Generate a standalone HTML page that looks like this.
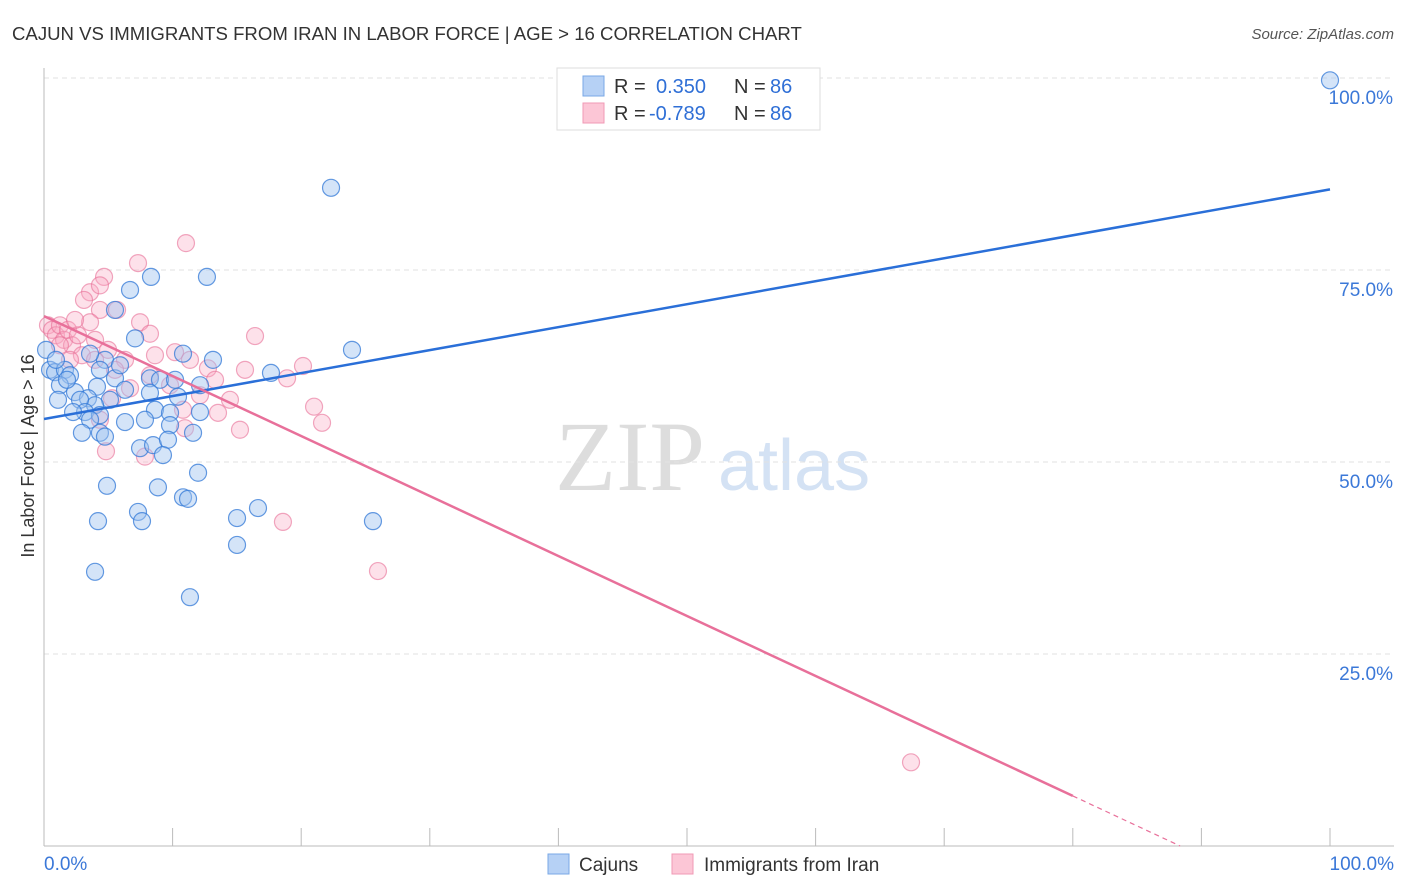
<!DOCTYPE html>
<html><head><meta charset="utf-8"><style>
body{margin:0;background:#fff;font-family:"Liberation Sans",sans-serif}
#c{position:relative;width:1406px;height:892px;overflow:hidden}
</style></head><body>
<div id="c">
<svg id="s" width="1406" height="892" xmlns="http://www.w3.org/2000/svg">
<text x="12" y="40" font-size="18.6" fill="#333">CAJUN VS IMMIGRANTS FROM IRAN IN LABOR FORCE | AGE &gt; 16 CORRELATION CHART</text>
<text x="1394" y="39" font-size="15" fill="#555" font-style="italic" text-anchor="end">Source: ZipAtlas.com</text>
<text x="0" y="0" transform="translate(34,456) rotate(-90)" font-size="18" fill="#333" text-anchor="middle">In Labor Force | Age &gt; 16</text>
<text x="555" y="490" font-size="100" fill="#ddd" font-family="Liberation Serif,serif">ZIP</text>
<text x="718" y="490" font-size="72" fill="#d4e2f4">atlas</text>
<g id="grid"></g><g id="pts"></g><g id="lines"></g>
<g>
<rect x="557" y="68" width="263" height="62" fill="#fff" stroke="#ddd"/>
<rect x="583" y="76" width="21" height="20" fill="#b6d1f5" stroke="#7aa8e6"/>
<rect x="583" y="103" width="21" height="20" fill="#fcc6d6" stroke="#f09ab5"/>
<text x="614" y="93" font-size="20" fill="#333">R =</text>
<text x="656" y="93" font-size="20" fill="#2f6fd6">0.350</text>
<text x="734" y="93" font-size="20" fill="#333">N =</text>
<text x="770" y="93" font-size="20" fill="#2f6fd6">86</text>
<text x="614" y="120" font-size="20" fill="#333">R =</text>
<text x="649" y="120" font-size="20" fill="#2f6fd6">-0.789</text>
<text x="734" y="120" font-size="20" fill="#333">N =</text>
<text x="770" y="120" font-size="20" fill="#2f6fd6">86</text>
</g>
<g>
<rect x="548" y="854" width="21" height="20" fill="#b6d1f5" stroke="#7aa8e6"/>
<text x="579" y="871" font-size="19" fill="#333">Cajuns</text>
<rect x="672" y="854" width="21" height="20" fill="#fcc6d6" stroke="#f09ab5"/>
<text x="704" y="871" font-size="19" fill="#333">Immigrants from Iran</text>
</g>
</svg></div>
<script>
const yTicks=[25,50,75,100];
const yTickLabels=["25.0%","50.0%","75.0%","100.0%"];
const xTickLabels=["0.0%","100.0%"];
const blueX=[100,22.32,8.32,12.67,6.69,23.95,5.52,7.08,13.14,10.81,17.65,0.16,0.47,0.86,1.63,2.02,1.24,2.41,4.12,5.52,6.30,5.13,8.24,9.02,10.19,12.13,10.42,8.24,3.42,3.97,2.80,3.19,2.26,4.35,8.63,12.13,9.80,6.30,3.58,7.85,9.80,4.35,2.95,4.74,11.59,7.47,8.48,9.64,9.25,11.98,4.90,8.86,10.81,11.20,7.31,7.62,4.20,15.01,16.64,25.58,15.01,3.97,11.35,0.93,1.79,4.74,5.91,1.09,3.58,4.35];
const blueY=[99.7,85.7,74.1,74.1,72.4,64.6,69.8,66.1,63.3,64.1,61.6,64.6,62.0,61.7,62.0,61.3,60.0,59.1,59.8,60.9,59.4,58.1,60.9,60.7,60.7,60.0,58.5,59.0,58.3,57.4,58.1,56.5,56.5,56.1,56.8,56.5,56.4,55.2,55.5,55.5,54.8,53.8,53.8,53.3,53.8,51.8,52.2,52.9,50.9,48.6,46.9,46.7,45.4,45.2,43.5,42.3,42.3,42.7,44.0,42.3,39.2,35.7,32.4,63.3,60.7,63.3,62.6,58.1,64.1,62.0];
const pinkX=[11.04,7.31,4.67,3.58,4.35,3.11,5.68,4.35,3.58,7.47,8.24,16.41,0.31,0.62,0.93,1.24,1.56,1.87,2.18,2.64,2.95,3.97,4.98,6.30,8.63,10.19,11.35,12.75,15.63,20.14,18.90,13.30,8.24,6.69,5.29,9.80,14.46,21.00,21.62,10.81,13.53,15.24,4.35,7.85,4.82,18.58,25.97,67.42,1.24,2.41,5.52,12.13,10.96,3.97,2.02];
const pinkY=[78.5,75.9,74.1,72.1,73.0,71.1,69.8,69.8,68.2,68.2,66.7,66.4,67.8,67.2,66.5,67.8,65.9,67.2,65.2,66.5,63.9,65.9,64.6,63.3,63.9,64.3,63.3,62.2,62.0,62.5,60.9,60.7,61.3,59.6,58.3,60.0,58.1,57.2,55.1,56.8,56.4,54.2,55.5,50.7,51.4,42.2,35.8,10.9,65.2,68.5,62.0,58.7,54.4,63.3,63.3];
const blueFit=[55.6,85.5];
const pinkFit=[69.0,-0.781];
const X=v=>44+v*12.86, Y=v=>846-v*7.68;
const NS="http://www.w3.org/2000/svg";
function mk(t,a,p){const e=document.createElementNS(NS,t);for(const k in a)e.setAttribute(k,a[k]);p.appendChild(e);return e;}
const g=document.getElementById('grid');
yTicks.forEach((t,i)=>{
 const l=mk('line',{x1:44,x2:1394,y1:Y(t),y2:Y(t),stroke:'#e2e2e2','stroke-dasharray':'5,4'},g);
 
 
 const tx=mk('text',{x:1393,y:Y(t)+26,'font-size':19,fill:'#3b78d8','text-anchor':'end'},g);
 tx.textContent=yTickLabels[i];
 
 
});
const ax=mk('line',{x1:44,x2:44,y1:68,y2:846,stroke:'#bbb'},g);


const bx=mk('line',{x1:44,x2:1394,y1:846,y2:846,stroke:'#bbb'},g);


for(let i=1;i<=10;i++){const t=mk('line',{x1:X(i*10),x2:X(i*10),y1:828,y2:846,stroke:'#bbb'},g);
 
 }
[[0,'start',44],[1,'end',1394]].forEach(([i,a,x])=>{const t=mk('text',{x:x,y:870,'font-size':19,fill:'#3b78d8','text-anchor':a},g);t.textContent=xTickLabels[i];
 
 });
const p=document.getElementById('pts');
pinkX.forEach((v,i)=>{const c=mk('circle',{cx:X(v),cy:Y(pinkY[i]),r:8.5,fill:'rgba(248,170,195,0.35)',stroke:'rgba(232,110,150,0.6)','stroke-width':1.2},p);
 
 });
blueX.forEach((v,i)=>{const c=mk('circle',{cx:X(v),cy:Y(blueY[i]),r:8.5,fill:'rgba(160,196,240,0.45)',stroke:'rgba(50,120,215,0.75)','stroke-width':1.2},p);
 
 });
const L=document.getElementById('lines');
const b=mk('line',{x1:X(0),y1:Y(blueFit[0]),x2:X(100),y2:Y(blueFit[1]),stroke:'#2a6fd8','stroke-width':2.5},L);


const xz=-pinkFit[0]/pinkFit[1];
const pk=mk('line',{x1:X(0),y1:Y(pinkFit[0]),x2:X(80),y2:Y(pinkFit[0]+pinkFit[1]*80),stroke:'#e8709a','stroke-width':2.5},L);


const pd=mk('line',{x1:X(80),y1:Y(pinkFit[0]+pinkFit[1]*80),x2:X(xz),y2:Y(0),stroke:'#e8709a','stroke-width':1.2,'stroke-dasharray':'5,4'},L);


</script>
</body></html>
